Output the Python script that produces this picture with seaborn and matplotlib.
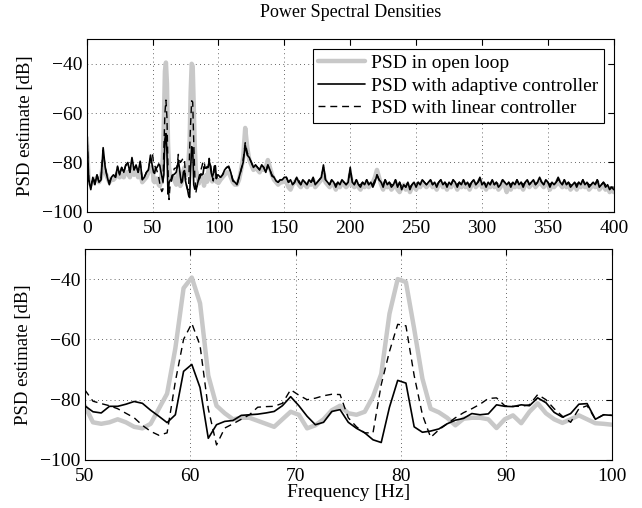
import numpy as np
import pandas as pd
import matplotlib
matplotlib.use("Agg")
import matplotlib.pyplot as plt
import seaborn as sns

# ---------------- data ----------------
FS = 800.0
NFFT = 1024
RES = FS / NFFT  # frequency resolution of the PSD estimate (Hz per bin)

# frequency bins shown (bin indices)
low_bins = list(range(0, 64, 2))       # 0 .. 48.4 Hz
zoom_bins = list(range(64, 129))       # 50 .. 100 Hz (full resolution)
high_bins = list(range(130, 513, 2))   # 101.6 .. 400 Hz

series_names = ["PSD in open loop", "PSD with adaptive controller", "PSD with linear controller"]

# 0 - 50 Hz
open_low = [-70, -88, -89, -88, -87, -86, -88, -86, -80, -84, -86, -88, -87, -87, -86, -84,
            -86, -85, -86, -84, -84, -86, -82, -85, -83, -86, -84, -88, -87, -86, -84, -82]
adapt_low = [-66, -87, -91, -86, -89, -85, -88, -87, -74, -82, -86, -89, -86, -85, -86, -81.5,
             -85, -82, -84, -81, -80, -84, -78, -83, -81, -84, -79.5, -87, -86, -84, -83, -77]
linear_low = [-66, -87, -90, -86, -88, -85, -88, -86, -75, -82, -86, -88, -86, -85, -86, -82,
              -85, -82, -84, -81, -81, -84, -79, -83, -81, -84, -80, -87, -86, -84, -83, -78]

# 50 - 100 Hz
open_zoom = [-82, -87.5, -88, -87.5, -86.5, -87.5, -89, -89.5, -88, -83, -78, -63, -43,
             -39.5, -48, -72, -82, -84.5, -86.5, -86, -86, -87, -88, -89, -86.5, -84,
             -85, -89.5, -88.5, -86.5, -83.5, -82, -84.5, -85, -84, -79, -71.5, -51.5, -40,
             -41, -56.5, -73, -83, -84.2, -86, -88.5, -86.3, -86, -86, -86.5, -89.4, -86.5,
             -85.2, -87.8, -84, -81.2, -84.5, -86.5, -87.7, -86.5, -85.2, -86.5, -87.8, -88, -88.3]
adapt_zoom = [-82, -84, -84.4, -82.2, -82.2, -81.5, -80.6, -81.2, -83.5, -85.5, -87.6, -85, -70.6,
              -68.3, -76, -92.8, -88.3, -87.2, -86.9, -85.2, -85, -84.8, -84.4, -83.9, -82, -79,
              -82, -85.5, -88.3, -87.5, -83.9, -83.3, -87.5, -89.5, -91, -93.3, -94.2, -82.5, -73.6,
              -74.5, -89, -90.8, -90.4, -89.7, -88, -86.8, -86.2, -84.6, -85, -84.7, -81.7, -82.2,
              -82.3, -81.7, -82, -79.4, -81, -84.2, -85.8, -84.6, -81.5, -81.3, -86.5, -85, -85.2]
linear_zoom = [-76.7, -80.5, -81.3, -82, -83, -84.5, -86, -88.5, -90.5, -91.8, -91, -74, -60,
               -54.7, -62, -83, -95, -89.4, -88, -86.5, -85, -82.5, -82.3, -82.2, -81.2, -76.7,
               -78.5, -80, -79.5, -78.7, -78.2, -78.3, -86, -89, -91, -91, -75, -64, -55,
               -55.5, -72, -85, -92.5, -90, -88, -86, -84.3, -83, -81.5, -79.6, -79.4, -82,
               -82.2, -82.2, -81.7, -78.3, -80, -83, -85.5, -87.5, -83, -82, -86.5, -85, -85.2]

# 100 - 400 Hz
open_high = [-87, -86, -85, -84, -84, -86, -88, -89, -89, -87, -83, -78, -66, -74, -79, -81,
             -83, -82, -83, -84, -82, -83, -82, -79, -82, -85, -87, -88, -89, -88, -88, -87,
             -88, -90, -91, -89, -88, -87, -89, -90, -88, -89,
             -90, -88, -89, -87, -90, -89, -88, -87, -84, -88,
             -89, -90, -88, -89, -91, -89, -90, -88, -89, -90,
             -89, -85, -89, -90, -88, -90, -91, -89, -90, -88,
             -90, -89, -88, -86, -83, -86, -89, -91, -88, -90,
             -89, -91, -90, -88, -91, -92, -90, -89, -91, -89,
             -92, -90, -89, -91, -89, -90, -88, -89, -90, -89,
             -88, -90, -89, -91, -89, -88, -90, -89, -91, -89,
             -90, -88, -89, -91, -89, -90, -88, -90, -89, -91,
             -89, -88, -90, -89, -87, -90, -89, -91, -89, -90,
             -88, -90, -89, -91, -90, -88, -89, -92, -89, -91,
             -89, -90, -88, -90, -89, -91, -89, -88, -90, -89,
             -88, -90, -89, -87, -89, -90, -88, -89, -91, -89,
             -90, -89, -87, -89, -90, -88, -90, -89, -91, -90,
             -89, -91, -89, -90, -88, -90, -89, -91, -90, -89,
             -90, -88, -91, -90, -89, -91, -90, -92, -91, -92]
adapt_high = [-86, -85, -83, -82, -81.5, -84, -87.5, -88, -89, -86, -83, -80, -73, -77, -78, -80,
              -82, -81, -82, -83, -81, -82, -84, -81, -83, -85.5, -86, -87.5, -88, -87, -87, -86,
              -86, -88, -87, -89, -88, -86, -88, -89, -87, -88,
              -89, -87, -88, -86, -89, -88, -87, -86, -81, -87,
              -88, -89, -87, -88, -90, -88, -89, -87, -88, -89,
              -88, -82, -88, -89, -87, -89, -90, -88, -89, -87,
              -89, -88, -90, -88, -85, -87, -88, -90, -87, -89,
              -88, -90, -89, -87, -90, -88, -91, -89, -90, -88,
              -91, -89, -88, -90, -88, -89, -87, -88, -89, -88,
              -87, -89, -88, -90, -88, -87, -89, -88, -90, -88,
              -89, -87, -88, -90, -88, -89, -87, -89, -88, -90,
              -88, -87, -89, -88, -86, -89, -88, -90, -88, -89,
              -87, -89, -88, -90, -89, -87, -88, -89, -88, -90,
              -88, -89, -87, -89, -88, -90, -88, -87, -89, -88,
              -87, -89, -88, -86, -88, -89, -87, -88, -90, -88,
              -89, -88, -86, -88, -89, -87, -89, -88, -90, -89,
              -88, -90, -88, -89, -87, -89, -88, -90, -89, -88,
              -89, -87, -90, -89, -88, -90, -89, -91, -90, -91]
linear_high = [-86, -85, -83.5, -82, -82, -84, -87, -88, -89, -86, -83, -79, -72, -76, -78, -80,
               -82, -81, -82, -83, -81, -82, -84, -81, -83, -85, -86, -87.5, -88, -87, -87, -86,
               -86, -88, -88, -89, -88, -86, -87, -89, -87, -88,
               -89, -87, -88, -87, -89, -88, -87, -86, -82, -87,
               -88, -89, -87, -88, -89, -88, -89, -88, -88, -89,
               -88, -83, -88, -89, -87, -89, -89, -88, -89, -87,
               -89, -88, -89, -87, -85, -87, -88, -89, -87, -89,
               -88, -89, -89, -87, -90, -88, -90, -89, -90, -88,
               -90, -89, -88, -89, -88, -89, -87, -88, -89, -88,
               -87, -89, -88, -89, -88, -87, -89, -88, -89, -88,
               -89, -87, -88, -89, -88, -89, -87, -89, -88, -89,
               -88, -87, -89, -88, -87, -89, -88, -89, -88, -89,
               -87, -89, -88, -89, -89, -87, -88, -89, -88, -89,
               -88, -89, -87, -89, -88, -89, -88, -87, -89, -88,
               -87, -89, -88, -87, -88, -89, -87, -88, -89, -88,
               -89, -88, -87, -88, -89, -87, -89, -88, -89, -89,
               -88, -89, -88, -89, -87, -89, -88, -89, -89, -88,
               -89, -87, -89, -89, -88, -89, -89, -90, -90, -90]

# ---------------- frames ----------------
def frame(bins, vals):
    return pd.DataFrame({"freq": np.array(bins) * RES, "psd": vals})

full_bins = low_bins + zoom_bins + high_bins
full = {
    series_names[0]: frame(full_bins, open_low + open_zoom + open_high),
    series_names[1]: frame(full_bins, adapt_low + adapt_zoom + adapt_high),
    series_names[2]: frame(full_bins, linear_low + linear_zoom + linear_high),
}
zoom = {
    series_names[0]: frame(zoom_bins, open_zoom),
    series_names[1]: frame(zoom_bins, adapt_zoom),
    series_names[2]: frame(zoom_bins, linear_zoom),
}

# ---------------- style ----------------
FS_TXT = 14
sns.set_theme(style="white")
plt.rcParams["font.family"] = ["Liberation Serif", "DejaVu Serif"]
plt.rcParams.update({
    "font.size": FS_TXT,
    "axes.edgecolor": "black",
    "axes.linewidth": 0.8,
    "xtick.direction": "in",
    "ytick.direction": "in",
    "xtick.top": True,
    "ytick.right": True,
    "xtick.major.size": 4,
    "ytick.major.size": 4,
    "xtick.major.width": 0.8,
    "ytick.major.width": 0.8,
    "xtick.color": "black",
    "ytick.color": "black",
    "xtick.labelsize": FS_TXT,
    "ytick.labelsize": FS_TXT,
    "axes.labelsize": FS_TXT,
    "text.color": "black",
    "axes.labelcolor": "black",
})

styles = {
    series_names[0]: dict(color="#c8c8c8", linewidth=3.2, linestyle="-"),
    series_names[1]: dict(color="black", linewidth=1.2, linestyle="-"),
    series_names[2]: dict(color="black", linewidth=1.0, linestyle=(0, (5, 3.5))),
}

fig = plt.figure(figsize=(6.42, 5.08), dpi=100)
ax1 = fig.add_axes([0.135, 0.583, 0.821, 0.340])
ax2 = fig.add_axes([0.132, 0.0945, 0.821, 0.4155])

for name in series_names:
    sns.lineplot(data=full[name], x="freq", y="psd", ax=ax1, label=name,
                 estimator=None, sort=False, **styles[name])
    sns.lineplot(data=zoom[name], x="freq", y="psd", ax=ax2, legend=False,
                 estimator=None, sort=False, **styles[name])

ax1.set_xlim(0, 400)
ax1.set_xticks(np.arange(0, 401, 50))
ax2.set_xlim(50, 100)
ax2.set_xticks(np.arange(50, 101, 10))
for ax in (ax1, ax2):
    ax.set_ylim(-100, -30)
    ax.set_yticks([-100, -80, -60, -40])
    ax.grid(True, linestyle=(0, (1, 4)), color="black", linewidth=0.6, alpha=0.8)
    ax.set_ylabel("PSD estimate [dB]", fontsize=13.5, labelpad=6)
    for s in ax.spines.values():
        s.set_color("black")
        s.set_visible(True)
    ax.tick_params(axis="y", pad=3)
    ax.tick_params(axis="x", pad=6)

ax1.set_xlabel("")
ax2.set_xlabel("Frequency [Hz]", labelpad=-1)
ax1.set_title("Power Spectral Densities", fontsize=13, pad=16)

leg = ax1.legend(loc="upper right", frameon=True, fancybox=False, framealpha=1,
                 edgecolor="black", handlelength=2.4, borderpad=0.3,
                 labelspacing=0.25, handletextpad=0.3, borderaxespad=0.5,
                 fontsize=FS_TXT)
leg.get_frame().set_linewidth(0.8)

fig.savefig("out.png", dpi=100)
